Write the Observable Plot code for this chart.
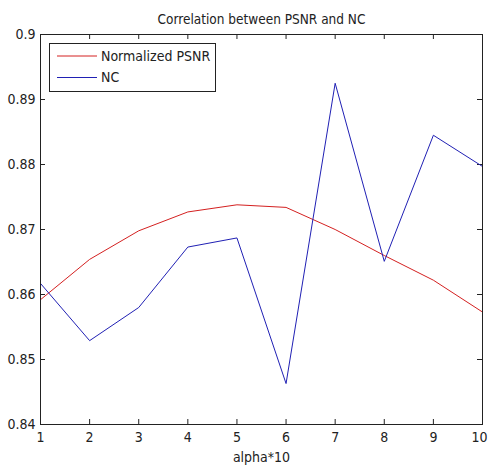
<!DOCTYPE html>
<html>
<head>
<meta charset="utf-8">
<script src="https://cdn.jsdelivr.net/npm/d3@7"></script>
<script src="https://cdn.jsdelivr.net/npm/@observablehq/plot@0.6"></script>
<style>
  html, body { margin: 0; padding: 0; background: #fff; }
  #chart { position: relative; width: 488px; height: 466px; }
</style>
</head>
<body>
<div id="chart"></div>
<script>
const alphaX = [1, 2, 3, 4, 5, 6, 7, 8, 9, 10];
const psnrValues = [0.8592, 0.8654, 0.8698, 0.8727, 0.8738, 0.8734, 0.8700, 0.8660, 0.8622, 0.8573];
const ncValues = [0.8617, 0.8529, 0.8580, 0.8673, 0.8687, 0.8463, 0.8925, 0.8651, 0.8845, 0.8797];
const yTicks = [0.84, 0.85, 0.86, 0.87, 0.88, 0.89, 0.9];
const seriesNames = ["Normalized PSNR", "NC"];
const seriesColors = ["#d42020", "#2020b4"];
const titleText = "Correlation between PSNR and NC";
const xLabel = "alpha*10";

const font = "'Liberation Sans Narrow', 'DejaVu Sans Condensed', 'Liberation Sans', sans-serif";
const W = 488, H = 466;
const mL = 40, mR = 6, mT = 34, mB = 42;
const innerH = H - mT - mB, innerW = W - mL - mR;
const tk = 5;

const psnrData = alphaX.map((x, i) => ({x, y: psnrValues[i]}));
const ncData = alphaX.map((x, i) => ({x, y: ncValues[i]}));
const ink = "#222";
const lastX = alphaX[alphaX.length - 1];

const plot = Plot.plot({
  width: W, height: H,
  marginLeft: mL, marginRight: mR, marginTop: mT, marginBottom: mB,
  style: {fontFamily: font, fontSize: "14px", color: ink, background: "#fff"},
  x: {domain: [1, 10]},
  y: {domain: [0.84, 0.9]},
  marks: [
    Plot.axisX(alphaX.slice(0, -1), {tickSize: 0, tickPadding: 8, label: null, fontSize: 14, fill: ink}),
    Plot.axisX([lastX], {tickSize: 0, tickPadding: 8, label: null, fontSize: 14, fill: ink, textAnchor: "end", dx: 5}),
    Plot.axisY(yTicks, {tickSize: 0, tickPadding: 5, label: null, fontSize: 14, fill: ink,
      tickFormat: d => String(+d.toFixed(2))}),
    Plot.tickX(alphaX, {x: d => d, insetTop: innerH - tk, stroke: ink}),
    Plot.tickX(alphaX, {x: d => d, insetBottom: innerH - tk, stroke: ink}),
    Plot.tickY(yTicks, {y: d => d, insetRight: innerW - tk, stroke: ink}),
    Plot.tickY(yTicks, {y: d => d, insetLeft: innerW - tk, stroke: ink}),
    Plot.line(psnrData, {x: "x", y: "y", stroke: seriesColors[0], strokeWidth: 1}),
    Plot.line(ncData, {x: "x", y: "y", stroke: seriesColors[1], strokeWidth: 1}),
    Plot.frame({stroke: ink, strokeWidth: 1}),
    Plot.text([titleText], {frameAnchor: "top", dy: -15, fontSize: 13.5, fill: ink, lineAnchor: "middle"}),
    Plot.text([xLabel], {frameAnchor: "bottom", dy: 33, fontSize: 14, fill: ink, lineAnchor: "middle"})
  ]
});
document.getElementById("chart").appendChild(plot);

// legend box inside the plot frame (top-left)
const svg = d3.select(plot);
const lg = svg.append("g").attr("font-family", font).attr("font-size", 14).attr("text-anchor", "start");
lg.append("rect").attr("x", 49.5).attr("y", 43.5).attr("width", 166).attr("height", 48)
  .attr("fill", "#fff").attr("stroke", ink);
seriesNames.forEach((name, i) => {
  const cy = 56 + i * 21.5;
  lg.append("line").attr("x1", 57).attr("x2", 97).attr("y1", cy).attr("y2", cy)
    .attr("stroke", seriesColors[i]);
  lg.append("text").attr("x", 101).attr("y", cy).attr("dy", "0.35em").attr("fill", ink).text(name);
});
</script>
</body>
</html>
